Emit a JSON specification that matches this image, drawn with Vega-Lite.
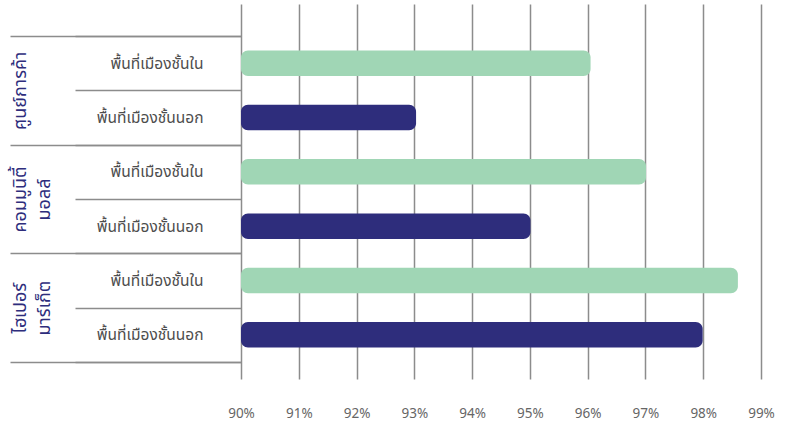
{
  "$schema": "https://vega.github.io/schema/vega-lite/v6.json",
  "width": 520,
  "height": 375,
  "autosize": {"type": "none"},
  "padding": {"left": 241, "top": 4, "right": 26, "bottom": 44},
  "background": "white",
  "config": {"view": {"stroke": null}, "font": "Noto Sans, Noto Sans Thai, Noto Sans Thai UI, Prompt, Kanit"},
  "data": {
    "values": [
      {"group": "ศูนย์การค้า", "area": "พื้นที่เมืองชั้นใน", "row": "ศูนย์การค้า|พื้นที่เมืองชั้นใน", "pct": 96.05},
      {"group": "ศูนย์การค้า", "area": "พื้นที่เมืองชั้นนอก", "row": "ศูนย์การค้า|พื้นที่เมืองชั้นนอก", "pct": 93.03},
      {"group": "คอมมูนิตี้ มอลล์", "area": "พื้นที่เมืองชั้นใน", "row": "คอมมูนิตี้ มอลล์|พื้นที่เมืองชั้นใน", "pct": 97.01},
      {"group": "คอมมูนิตี้ มอลล์", "area": "พื้นที่เมืองชั้นนอก", "row": "คอมมูนิตี้ มอลล์|พื้นที่เมืองชั้นนอก", "pct": 95.01},
      {"group": "ไฮเปอร์ มาร์เก็ต", "area": "พื้นที่เมืองชั้นใน", "row": "ไฮเปอร์ มาร์เก็ต|พื้นที่เมืองชั้นใน", "pct": 98.6},
      {"group": "ไฮเปอร์ มาร์เก็ต", "area": "พื้นที่เมืองชั้นนอก", "row": "ไฮเปอร์ มาร์เก็ต|พื้นที่เมืองชั้นนอก", "pct": 97.99}
    ]
  },
  "layer": [
    {
      "mark": {"type": "bar", "opacity": 0},
      "encoding": {
        "y": {
          "field": "group",
          "type": "nominal",
          "sort": null,
          "scale": {"paddingInner": 0, "paddingOuter": 0.2254, "align": 0.653},
          "axis": {
            "orient": "left",
            "title": null,
            "domain": false,
            "grid": false,
            "tickBand": "extent",
            "tickSize": 231,
            "tickColor": "#8c8c8c",
            "tickWidth": 1.5,
            "labelAngle": -90,
            "labelAlign": "center",
            "labelBaseline": "top",
            "labelPadding": -1,
            "labelExpr": "split(datum.label, ' ')",
            "labelFontSize": 18,
            "labelLineHeight": 24,
            "labelColor": "#2e2d7c",
            "labelOverlap": false
          }
        },
        "x": {
          "field": "pct",
          "type": "quantitative",
          "scale": {"domain": [90, 99], "nice": false, "zero": false},
          "axis": {
            "values": [90, 91, 92, 93, 94, 95, 96, 97, 98, 99],
            "title": null,
            "grid": true,
            "gridColor": "#8c8c8c",
            "gridWidth": 1.5,
            "ticks": false,
            "domain": false,
            "labelExpr": "datum.value + '%'",
            "labelFlush": false,
            "labelPadding": 27,
            "labelFontSize": 13.5,
            "labelColor": "#666666"
          }
        }
      }
    },
    {
      "mark": {"type": "bar", "cornerRadius": 7, "height": {"band": 0.47}},
      "encoding": {
        "y": {
          "field": "row",
          "type": "nominal",
          "sort": null,
          "scale": {"paddingInner": 0, "paddingOuter": 0.451, "align": 0.653},
          "axis": {
            "orient": "left",
            "title": null,
            "domain": false,
            "grid": false,
            "tickBand": "extent",
            "tickSize": 166,
            "tickColor": "#8c8c8c",
            "tickWidth": 1.5,
            "labelAlign": "right",
            "labelBaseline": "middle",
            "labelPadding": -128,
            "labelExpr": "split(datum.label, '|')[1]",
            "labelFontSize": 15.5,
            "labelColor": "#4d4d4d",
            "labelOverlap": false
          }
        },
        "x": {"field": "pct", "type": "quantitative"},
        "x2": {"datum": 90},
        "color": {
          "field": "area",
          "type": "nominal",
          "scale": {"domain": ["พื้นที่เมืองชั้นใน", "พื้นที่เมืองชั้นนอก"], "range": ["#a0d6b5", "#2e2d7c"]},
          "legend": null
        }
      }
    }
  ],
  "resolve": {"scale": {"y": "independent"}, "axis": {"y": "independent"}}
}
